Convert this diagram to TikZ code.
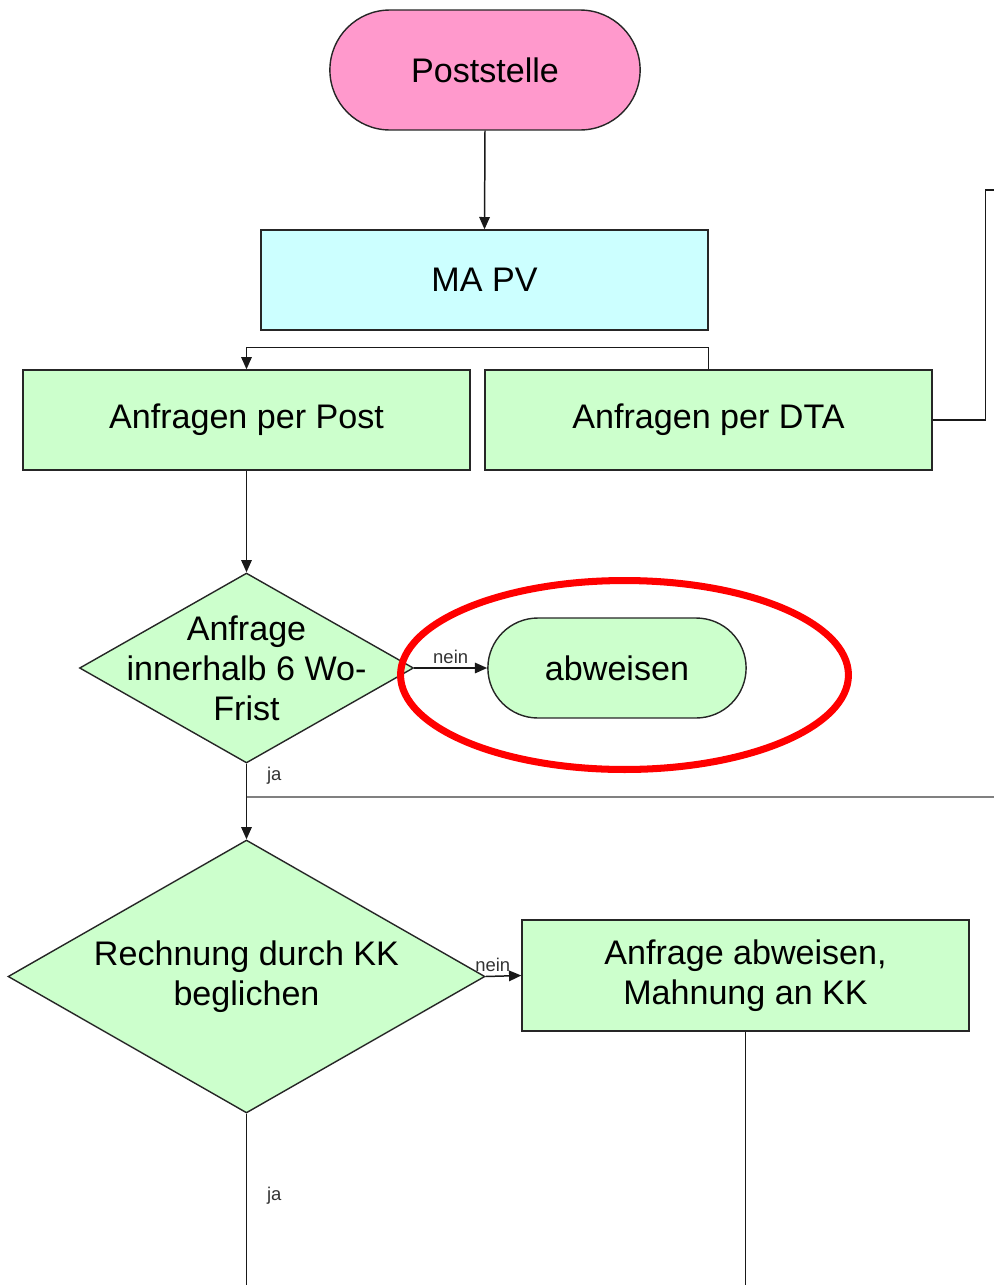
\documentclass[tikz,border=0pt]{standalone}
\usepackage{fontspec}
\setmainfont{Liberation Sans}
\usepackage{tikz}
\usetikzlibrary{arrows.meta, positioning, shapes.geometric, shapes.misc}

\definecolor{postpink}{HTML}{FF99CC}
\definecolor{mapvcyan}{HTML}{CCFFFF}
\definecolor{anfgreen}{HTML}{CCFFCC}

\begin{document}
\begin{tikzpicture}[
      x=0.02cm, y=-0.02cm,
      every node/.style={font=\fontsize{19.4}{22.7}\selectfont, text=black},
      box/.style={rectangle, draw=black!85, line width=0.8pt, minimum width=8.94cm, minimum height=2cm, fill=anfgreen},
      term/.style={rounded rectangle, draw=black!85, line width=0.8pt},
      decision/.style={diamond, draw=black!85, line width=0.8pt, fill=anfgreen, inner sep=0pt},
      inner text/.style={align=center},
      conn/.style={draw=black!90, line width=0.85pt},
      arrow/.style={conn, -{Triangle[length=7pt, width=6pt]}},
      grayline/.style={draw=black!50, line width=1.5pt},
      small/.style={font=\fontsize{10.5}{12}\selectfont, text=black!80, inner sep=1pt}
    ]
      \useasboundingbox (0,0) rectangle (994,1285);

      \node[term, fill=postpink, minimum width=6.44cm, minimum height=2.4cm] (post) at (485,70) {Poststelle};
      \node[box, fill=mapvcyan] (mapv) at (484.5,280) {MA PV};
      \node[box] (postanf) at (246.5,420) {Anfragen per Post};
      \node[box] (dta) at (708.5,420) {Anfragen per DTA};
      \node[decision, minimum width=6.68cm, minimum height=3.8cm,
            label={[inner text]center:{Anfrage\\innerhalb 6 Wo-\\Frist}}] (frist) at (246.5,668) {};
      \node[term, fill=anfgreen, minimum width=5.4cm, minimum height=2cm] (abw) at (617,668) {abweisen};
      \node[decision, minimum width=9.54cm, minimum height=5.46cm,
            label={[inner text]center:{Rechnung durch KK\\beglichen}}] (rechnung) at (246.5,976.5) {};
      \node[box, minimum height=2.22cm, inner text] (mahnung) at (745.5,975.5) {Anfrage abweisen,\\Mahnung an KK};

      \coordinate (dtaend) at (994,190);
      \coordinate (jabranch) at (246.5,797);
      \coordinate (jaend) at (994,797);
      \coordinate (rechend) at (246.5,1285);
      \coordinate (mahnend) at (745.5,1285);

      \draw[arrow] (post.south) -- (mapv.north);
      \draw[arrow] (dta.north) -- ++(0,-22) -| (postanf.north);
      \draw[conn] (dta.east) -- ++(53,0) |- (dtaend);
      \draw[arrow] (postanf.south) -- (frist.north);
      \draw[arrow] (frist.east) -- node[small, above=1pt] {nein} (abw.west);
      \draw[arrow] (frist.south) -- node[small, pos=0.16, right=0.36cm] {ja} (rechnung.north);
      \draw[grayline] (jabranch) -- (jaend);
      \draw[arrow] (rechnung.east) -- node[small, above=1pt, pos=0.2] {nein} (mahnung.west);
      \draw[conn] (rechnung.south) -- node[small, pos=0.48, right=0.36cm] {ja} (rechend);
      \draw[conn] (mahnung.south) -- (mahnend);

      \draw[red, line width=4pt] (624.5,675) ellipse [x radius=4.48cm, y radius=1.89cm];
    \end{tikzpicture}
\end{document}
